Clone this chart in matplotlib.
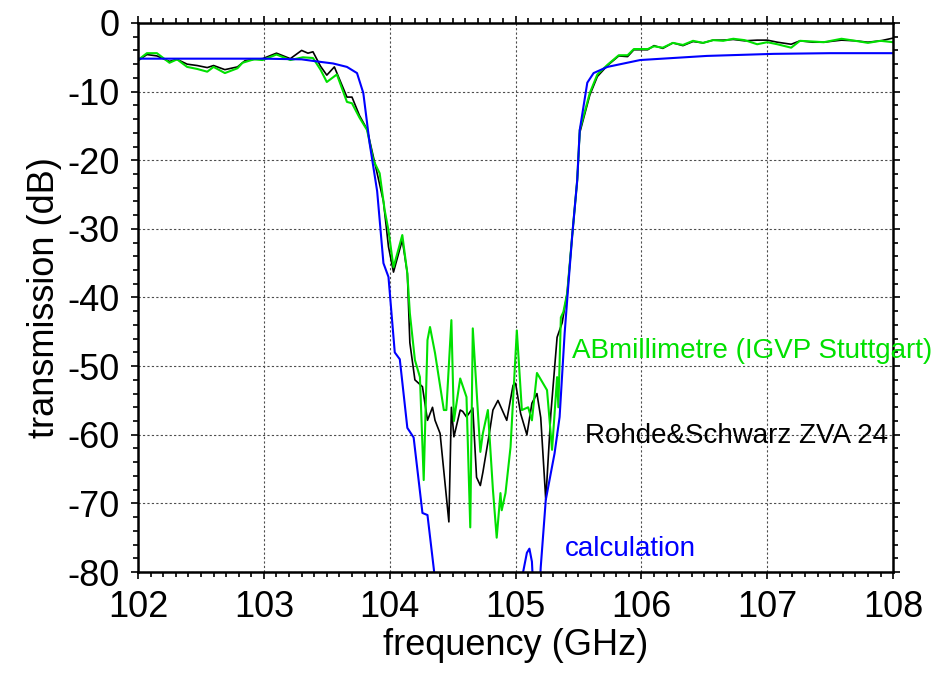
import matplotlib
matplotlib.use('Agg')
import matplotlib.pyplot as plt
from matplotlib.ticker import MultipleLocator

plt.rcParams['font.family'] = ['Liberation Sans', 'DejaVu Sans']
plt.rcParams['axes.unicode_minus'] = False

# measured with Rohde&Schwarz ZVA 24 (black)
f_zva = [102.0, 102.07, 102.15, 102.25, 102.31, 102.39, 102.47, 102.55, 102.6, 102.69,
         102.79, 102.85, 102.92, 102.99, 103.1, 103.21, 103.3, 103.35, 103.39, 103.45,
         103.5, 103.56, 103.66, 103.7, 103.76, 103.82, 103.87, 103.9, 103.95, 103.99,
         104.03, 104.1, 104.14, 104.16, 104.2, 104.26, 104.3, 104.34, 104.36, 104.4,
         104.47, 104.49, 104.51, 104.56, 104.58, 104.61, 104.66, 104.69, 104.72, 104.74,
         104.76, 104.79, 104.82, 104.86, 104.93, 104.98, 105.0, 105.04, 105.09, 105.13,
         105.17, 105.2, 105.24, 105.28, 105.33, 105.37, 105.41, 105.45, 105.49, 105.51,
         105.59, 105.65, 105.73, 105.82, 105.89, 105.94, 106.05, 106.1, 106.17, 106.25,
         106.33, 106.41, 106.49, 106.57, 106.65, 106.73, 106.82, 106.92, 107.0, 107.08,
         107.19, 107.26, 107.36, 107.45, 107.59, 107.7, 107.8, 107.9, 108.0]
t_zva = [-5.5, -4.6, -4.8, -5.6, -5.3, -6.0, -6.2, -6.5, -6.2, -6.8,
         -6.4, -5.5, -5.3, -5.2, -4.4, -5.2, -4.0, -4.4, -4.2, -6.3,
         -7.6, -6.4, -10.8, -10.8, -13.5, -15.5, -19.5, -21.9, -26.0, -32.6,
         -36.3, -31.6, -36.5, -46.6, -52.0, -53.0, -57.9, -56.0, -57.9, -59.8,
         -72.7, -56.0, -60.3, -56.4, -56.6, -57.4, -56.1, -66.2, -67.4, -65.5,
         -63.3, -60.0, -56.4, -55.0, -57.9, -52.8, -52.5, -56.9, -60.0, -55.4,
         -54.0, -57.5, -69.5, -57.0, -45.8, -43.7, -39.4, -31.0, -22.9, -16.0,
         -10.5, -7.8, -6.2, -4.8, -4.9, -3.9, -3.9, -3.3, -3.7, -2.9,
         -3.3, -2.7, -2.9, -2.5, -2.5, -2.4, -2.6, -2.5, -2.5, -2.8,
         -3.1, -2.6, -2.8, -2.8, -2.5, -2.6, -2.8, -2.6, -2.2]

# measured with ABmillimetre (green)
f_abm = [102.0, 102.07, 102.15, 102.25, 102.31, 102.39, 102.47, 102.55, 102.6, 102.69,
         102.79, 102.83, 102.92, 102.99, 103.1, 103.21, 103.31, 103.39, 103.45, 103.5,
         103.58, 103.66, 103.7, 103.76, 103.82, 103.87, 103.92, 103.96, 103.99, 104.03,
         104.1, 104.14, 104.16, 104.2, 104.24, 104.27, 104.3, 104.32, 104.36, 104.43,
         104.45, 104.49, 104.51, 104.56, 104.61, 104.64, 104.66, 104.72, 104.74, 104.78,
         104.82, 104.85, 104.88, 104.89, 104.92, 104.96, 105.01, 105.05, 105.1, 105.13,
         105.17, 105.25, 105.29, 105.33, 105.34, 105.36, 105.38, 105.41, 105.45, 105.49,
         105.51, 105.59, 105.65, 105.73, 105.82, 105.89, 105.94, 106.05, 106.1, 106.17,
         106.25, 106.33, 106.41, 106.49, 106.57, 106.65, 106.73, 106.82, 106.92, 107.0,
         107.08, 107.19, 107.26, 107.36, 107.45, 107.59, 107.7, 107.8, 107.9, 108.0]
t_abm = [-5.4, -4.4, -4.4, -5.8, -5.3, -6.4, -6.7, -7.1, -6.4, -7.3,
         -6.6, -5.8, -5.3, -5.4, -4.6, -5.4, -5.0, -5.1, -6.8, -8.6,
         -7.5, -11.5, -11.7, -13.8, -15.6, -20.0, -21.9, -27.3, -30.2, -35.6,
         -30.9, -36.5, -42.3, -49.1, -51.6, -66.6, -46.2, -44.3, -48.1, -56.4,
         -56.4, -43.3, -58.0, -51.8, -54.5, -73.5, -44.5, -62.5, -59.8, -56.4,
         -68.0, -75.0, -68.5, -71.0, -68.5, -61.8, -44.8, -56.4, -56.0, -57.9,
         -51.0, -53.5, -62.2, -51.6, -56.0, -42.9, -42.1, -39.4, -31.0, -22.9,
         -15.6, -10.2, -7.5, -6.1, -4.7, -4.7, -3.8, -3.8, -3.4, -3.6,
         -2.9, -3.2, -2.6, -2.9, -2.5, -2.6, -2.3, -2.5, -3.1, -2.8,
         -3.1, -3.6, -2.6, -2.7, -2.8, -2.3, -2.6, -2.9, -2.6, -2.8]

# calculation (blue)
f_calc = [102.0, 102.5, 103.0, 103.3, 103.42, 103.55, 103.66, 103.74, 103.79, 103.84,
          103.9, 103.95, 103.99, 104.04, 104.08, 104.14, 104.19, 104.26, 104.3, 104.35,
          104.4, 105.03, 105.06, 105.09, 105.11, 105.13, 105.15, 105.18, 105.2, 105.24,
          105.28, 105.31, 105.35, 105.39, 105.41, 105.45, 105.49, 105.51, 105.57, 105.62,
          105.73, 105.99, 106.52, 107.05, 107.5, 108.0]
t_calc = [-5.2, -5.2, -5.2, -5.3, -5.6, -5.9, -6.4, -7.3, -10.2, -17.5,
          -24.5, -35.0, -37.0, -48.0, -49.0, -59.0, -60.4, -71.4, -71.7, -79.5,
          -88.0, -88.0, -80.0, -77.2, -76.6, -78.5, -86.0, -86.0, -79.3, -69.5,
          -65.6, -62.7, -57.4, -45.2, -40.4, -31.0, -22.9, -15.6, -8.7, -7.3,
          -6.4, -5.4, -4.8, -4.5, -4.4, -4.4]

green = '#00e000'
blue = '#0000ff'

fig = plt.figure(figsize=(9.34, 6.88), dpi=100)
ax = fig.add_axes([0.1478, 0.1686, 0.8084, 0.798])

ax.plot(f_zva, t_zva, color='black', lw=1.2)
ax.plot(f_abm, t_abm, color=green, lw=1.5)
ax.plot(f_calc, t_calc, color=blue, lw=1.5)

ax.set_xlim(102, 108)
ax.set_ylim(-80, 0)
ax.xaxis.set_major_locator(MultipleLocator(1))
ax.xaxis.set_minor_locator(MultipleLocator(0.1))
ax.yaxis.set_major_locator(MultipleLocator(10))
ax.yaxis.set_minor_locator(MultipleLocator(2))
ax.tick_params(which='both', direction='out', top=True, right=True,
               labeltop=False, labelright=False, width=1.2, labelsize=26)
ax.tick_params(which='major', length=5, pad=8)
ax.tick_params(which='minor', length=3.5)
for s in ax.spines.values():
    s.set_linewidth(1.8)
ax.grid(True, which='major', color='0.3', linestyle=(0, (2, 2)), lw=0.8)

ax.set_xlabel('frequency (GHz)', fontsize=26, labelpad=2)
ax.set_ylabel('transmission (dB)', fontsize=26, labelpad=4)

ax.text(105.45, -48.8, 'ABmillimetre (IGVP Stuttgart)', color=green, fontsize=20,
        va='baseline', clip_on=False)
ax.text(105.55, -61.2, 'Rohde&Schwarz ZVA 24', color='black', fontsize=20,
        va='baseline', clip_on=False)
ax.text(105.39, -77.7, 'calculation', color=blue, fontsize=20,
        va='baseline', clip_on=False)

fig.savefig('out.png', dpi=100)
